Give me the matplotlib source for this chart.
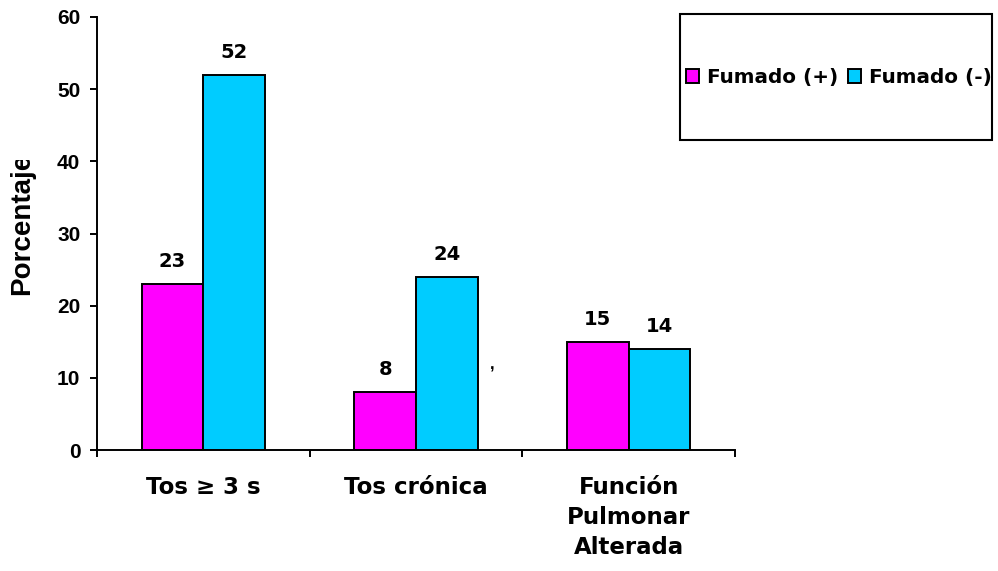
import matplotlib
matplotlib.use("Agg")
import matplotlib.pyplot as plt
from matplotlib.patches import Rectangle
from matplotlib.transforms import Bbox

categories = ["Tos \u2265 3 s", "Tos cr\u00f3nica", "Funci\u00f3n\nPulmonar\nAlterada"]
fumado_pos = [23, 8, 15]
fumado_neg = [52, 24, 14]
series_names = ["Fumado (+)", "Fumado (-)"]
y_ticks = [0, 10, 20, 30, 40, 50, 60]

col_pos = "#FF00FF"
col_neg = "#00CCFF"

fig = plt.figure(figsize=(9.98, 5.71), dpi=100)
ax = fig.add_axes([97 / 998, 1 - 450 / 571, (735 - 97) / 998, (450 - 17) / 571])

centers = [i + 0.5 for i in range(len(categories))]
w = 0.29
b1 = ax.bar([c - w / 2 for c in centers], fumado_pos, width=w, color=col_pos,
            edgecolor="black", linewidth=1.4, label=series_names[0])
b2 = ax.bar([c + w / 2 for c in centers], fumado_neg, width=w, color=col_neg,
            edgecolor="black", linewidth=1.4, label=series_names[1])

val_font = dict(family="DejaVu Sans", weight="bold", size=14)
for bars, vals in ((b1, fumado_pos), (b2, fumado_neg)):
    for r, v in zip(bars, vals):
        ax.annotate(f"{v}", (r.get_x() + r.get_width() / 2, v), xytext=(0, 9.5),
                    textcoords="offset points", ha="center", va="bottom", **val_font)

ax.set_xlim(0, 3)
ax.set_ylim(0, 60)
ax.set_yticks(y_ticks)
ax.set_xticks([0, 1, 2, 3])
ax.set_xticklabels([])
ax.tick_params(axis="both", direction="out", length=5, width=1.4, colors="black")
ax.tick_params(axis="y", pad=7)
for lbl in ax.get_yticklabels():
    lbl.set_fontfamily("Liberation Sans")
    lbl.set_fontweight("bold")
    lbl.set_fontsize(15)
for s in ("top", "right"):
    ax.spines[s].set_visible(False)
for s in ("left", "bottom"):
    ax.spines[s].set_linewidth(1.4)

cat_font = dict(family="DejaVu Sans", weight="bold", size=16.5)
for c, name in zip(centers, categories):
    ax.text(c, -3.6, name, ha="center", va="top", linespacing=1.4,
            **cat_font)

# y axis title, truncated at its top end
ylab = fig.text(22 / 998, 1 - 224 / 571, "Porcentaje", rotation=90,
                ha="center", va="center", family="Liberation Sans",
                weight="bold", size=20)
ylab.set_clip_box(Bbox.from_extents(0, 0, 60, 571 - 160))
ylab.set_clip_on(True)

fig.text(492 / 998, 1 - 365 / 571, ",", ha="center", va="center",
         family="Liberation Sans", weight="bold", size=12)

# legend frame
fig.patches.append(Rectangle((680 / 998, 1 - 140 / 571), (992 - 680) / 998,
                             (140 - 14) / 571, transform=fig.transFigure,
                             facecolor="white", edgecolor="black", linewidth=1.5,
                             zorder=0))
fig.legend(handles=[b1, b2], labels=series_names, loc="center left",
           bbox_to_anchor=(686 / 998, 1 - 78 / 571), ncol=2, frameon=False,
           handlelength=0.65, handleheight=0.7, handletextpad=0.4,
           columnspacing=0.5, borderpad=0, borderaxespad=0,
           prop=dict(family="DejaVu Sans", weight="bold", size=14.4))

fig.savefig("out.png", dpi=100)
